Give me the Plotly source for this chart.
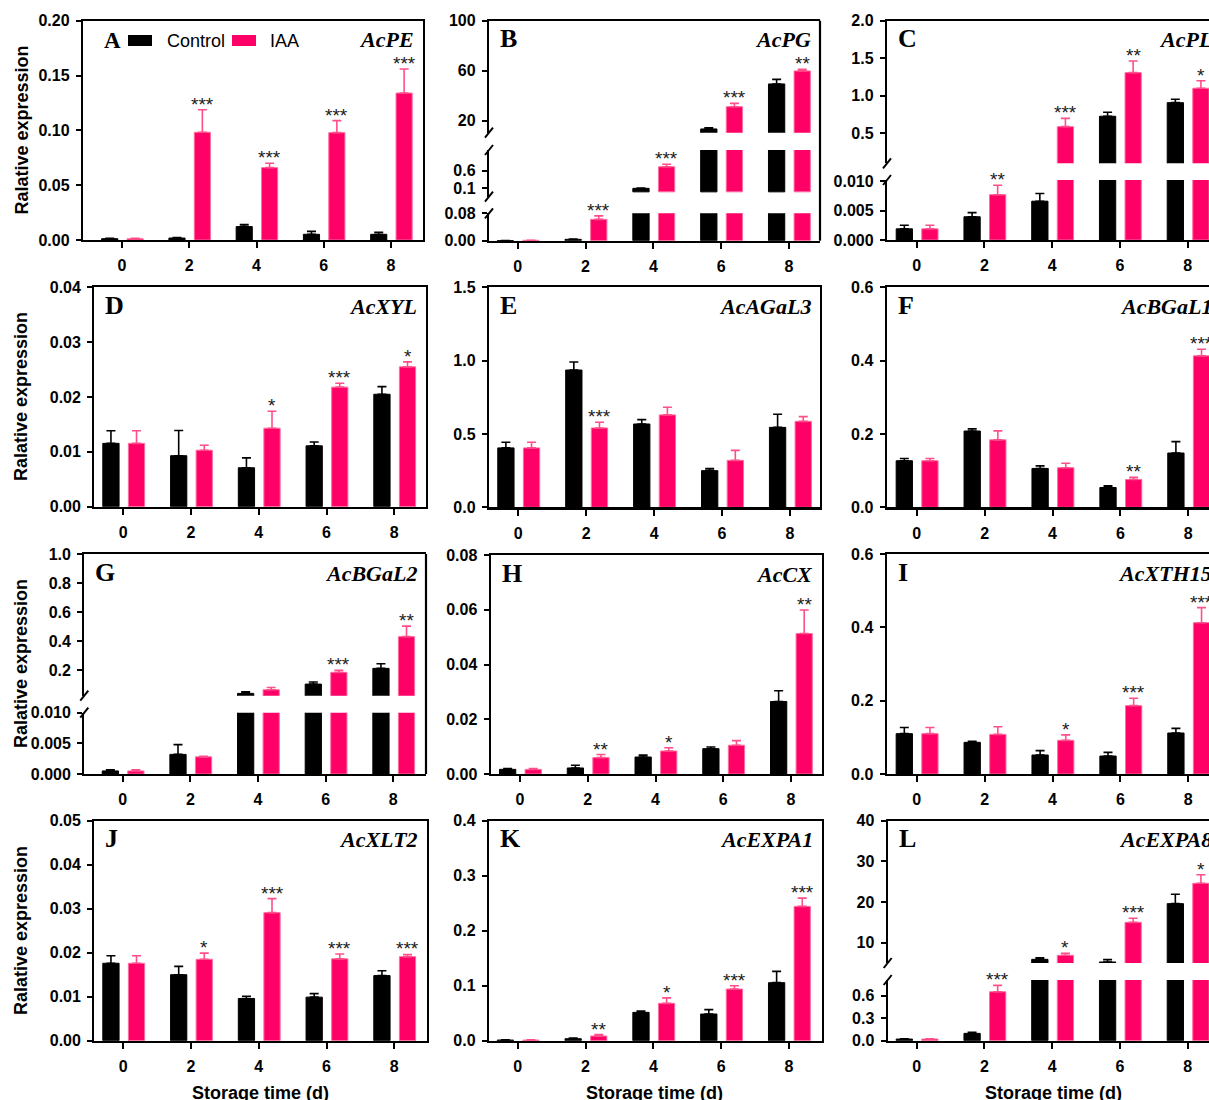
import plotly.graph_objects as go

W, H = 1209, 1100

# ---------------- data ----------------
days = [0, 2, 4, 6, 8]
day_labels = ["0", "2", "4", "6", "8"]
series_names = ["Control", "IAA"]
y_title = "Ralative expression"
x_title = "Storage time (d)"

# A  AcPE
AcPE_control = [0.0012, 0.0018, 0.0122, 0.0052, 0.0052]
AcPE_control_err = [0.0004, 0.0005, 0.0018, 0.0027, 0.0018]
AcPE_iaa = [0.0012, 0.0982, 0.066, 0.0979, 0.134]
AcPE_iaa_err = [0.0004, 0.0206, 0.004, 0.011, 0.022]
AcPE_sig = ["", "***", "***", "***", "***"]
AcPE_yticks = [0, 0.05, 0.10, 0.15, 0.20]
AcPE_ylabels = ["0.00", "0.05", "0.10", "0.15", "0.20"]

# B  AcPG (three-segment axis)
AcPG_control = [0.0005, 0.004, 0.10, 13.4, 49.4]
AcPG_control_err = [0.0002, 0.0008, 0.005, 1.0, 3.7]
AcPG_iaa = [0.0012, 0.0624, 0.713, 31.2, 59.8]
AcPG_iaa_err = [0.0003, 0.010, 0.07, 2.7, 1.3]
AcPG_sig = ["", "***", "***", "***", "**"]
AcPG_yticks_low = [0, 0.08]
AcPG_ylabels_low = ["0.00", "0.08"]
AcPG_yticks_mid = [0.1, 0.6]
AcPG_ylabels_mid = ["0.1", "0.6"]
AcPG_yticks_high = [20, 60, 100]
AcPG_ylabels_high = ["20", "60", "100"]

# C  AcPL (broken axis)
AcPL_control = [0.0019, 0.00395, 0.0066, 0.727, 0.908]
AcPL_control_err = [0.0006, 0.0007, 0.0013, 0.053, 0.045]
AcPL_iaa = [0.0019, 0.0077, 0.588, 1.308, 1.10]
AcPL_iaa_err = [0.0006, 0.0016, 0.11, 0.156, 0.10]
AcPL_sig = ["", "**", "***", "**", "*"]
AcPL_yticks_low = [0, 0.005, 0.010]
AcPL_ylabels_low = ["0.000", "0.005", "0.010"]
AcPL_yticks_high = [0.5, 1.0, 1.5, 2.0]
AcPL_ylabels_high = ["0.5", "1.0", "1.5", "2.0"]

# D  AcXYL
AcXYL_control = [0.01155, 0.0093, 0.0071, 0.0111, 0.0205]
AcXYL_control_err = [0.0023, 0.0046, 0.0018, 0.0007, 0.0014]
AcXYL_iaa = [0.01155, 0.0103, 0.0143, 0.0218, 0.0255]
AcXYL_iaa_err = [0.0023, 0.0009, 0.0031, 0.0007, 0.0009]
AcXYL_sig = ["", "", "*", "***", "*"]
AcXYL_yticks = [0, 0.01, 0.02, 0.03, 0.04]
AcXYL_ylabels = ["0.00", "0.01", "0.02", "0.03", "0.04"]

# E  AcAGaL3
AcAGaL3_control = [0.405, 0.936, 0.568, 0.25, 0.545]
AcAGaL3_control_err = [0.039, 0.055, 0.03, 0.014, 0.089]
AcAGaL3_iaa = [0.405, 0.541, 0.63, 0.32, 0.586]
AcAGaL3_iaa_err = [0.039, 0.039, 0.052, 0.068, 0.032]
AcAGaL3_sig = ["", "***", "", "", ""]
AcAGaL3_yticks = [0, 0.5, 1.0, 1.5]
AcAGaL3_ylabels = ["0.0", "0.5", "1.0", "1.5"]

# F  AcBGaL1
AcBGaL1_control = [0.127, 0.208, 0.106, 0.054, 0.148]
AcBGaL1_control_err = [0.006, 0.006, 0.007, 0.0045, 0.031]
AcBGaL1_iaa = [0.127, 0.184, 0.108, 0.076, 0.413]
AcBGaL1_iaa_err = [0.006, 0.0245, 0.012, 0.0055, 0.018]
AcBGaL1_sig = ["", "", "", "**", "***"]
AcBGaL1_yticks = [0, 0.2, 0.4, 0.6]
AcBGaL1_ylabels = ["0.0", "0.2", "0.4", "0.6"]

# G  AcBGaL2 (broken axis)
AcBGaL2_control = [0.0005, 0.0032, 0.039, 0.103, 0.2115]
AcBGaL2_control_err = [0.0002, 0.0016, 0.011, 0.014, 0.032]
AcBGaL2_iaa = [0.0005, 0.0028, 0.064, 0.184, 0.43]
AcBGaL2_iaa_err = [0.0002, 0.0001, 0.016, 0.014, 0.073]
AcBGaL2_sig = ["", "", "", "***", "**"]
AcBGaL2_yticks_low = [0, 0.005, 0.010]
AcBGaL2_ylabels_low = ["0.000", "0.005", "0.010"]
AcBGaL2_yticks_high = [0.2, 0.4, 0.6, 0.8, 1.0]
AcBGaL2_ylabels_high = ["0.2", "0.4", "0.6", "0.8", "1.0"]

# H  AcCX
AcCX_control = [0.0017, 0.0022, 0.0062, 0.00925, 0.0265]
AcCX_control_err = [0.0003, 0.001, 0.0007, 0.0006, 0.0039]
AcCX_iaa = [0.0017, 0.006, 0.0084, 0.0105, 0.0513]
AcCX_iaa_err = [0.0003, 0.0011, 0.0012, 0.0017, 0.0086]
AcCX_sig = ["", "**", "*", "", "**"]
AcCX_yticks = [0, 0.02, 0.04, 0.06, 0.08]
AcCX_ylabels = ["0.00", "0.02", "0.04", "0.06", "0.08"]

# I  AcXTH15
AcXTH15_control = [0.11, 0.0864, 0.0518, 0.049, 0.1118]
AcXTH15_control_err = [0.017, 0.003, 0.012, 0.01, 0.0127]
AcXTH15_iaa = [0.11, 0.108, 0.0918, 0.1864, 0.4127]
AcXTH15_iaa_err = [0.017, 0.021, 0.015, 0.02, 0.041]
AcXTH15_sig = ["", "", "*", "***", "***"]
AcXTH15_yticks = [0, 0.2, 0.4, 0.6]
AcXTH15_ylabels = ["0.0", "0.2", "0.4", "0.6"]

# J  AcXLT2
AcXLT2_control = [0.0176, 0.015, 0.0096, 0.0099, 0.0148]
AcXLT2_control_err = [0.0017, 0.0019, 0.0005, 0.0008, 0.0011]
AcXLT2_iaa = [0.0176, 0.0185, 0.0291, 0.0186, 0.0191]
AcXLT2_iaa_err = [0.0017, 0.0014, 0.0032, 0.0011, 0.0005]
AcXLT2_sig = ["", "*", "***", "***", "***"]
AcXLT2_yticks = [0, 0.01, 0.02, 0.03, 0.04, 0.05]
AcXLT2_ylabels = ["0.00", "0.01", "0.02", "0.03", "0.04", "0.05"]

# K  AcEXPA1
AcEXPA1_control = [0.0012, 0.0036, 0.0515, 0.0485, 0.1055]
AcEXPA1_control_err = [0.0003, 0.001, 0.0025, 0.008, 0.0206]
AcEXPA1_iaa = [0.0012, 0.0085, 0.0679, 0.0939, 0.2442]
AcEXPA1_iaa_err = [0.0003, 0.0025, 0.01, 0.006, 0.015]
AcEXPA1_sig = ["", "**", "*", "***", "***"]
AcEXPA1_yticks = [0, 0.1, 0.2, 0.3, 0.4]
AcEXPA1_ylabels = ["0.0", "0.1", "0.2", "0.3", "0.4"]

# L  AcEXPA8 (broken axis)
AcEXPA8_control = [0.022, 0.098, 5.9, 5.25, 19.6]
AcEXPA8_control_err = [0.005, 0.013, 0.4, 0.57, 2.3]
AcEXPA8_iaa = [0.022, 0.653, 6.89, 15.0, 24.6]
AcEXPA8_iaa_err = [0.005, 0.085, 0.5, 1.0, 2.1]
AcEXPA8_sig = ["", "***", "*", "***", "*"]
AcEXPA8_yticks_low = [0, 0.3, 0.6]
AcEXPA8_ylabels_low = ["0.0", "0.3", "0.6"]
AcEXPA8_yticks_high = [10, 20, 30, 40]
AcEXPA8_ylabels_high = ["10", "20", "30", "40"]

# ---------------- style / geometry ----------------
PINK = "#ff0066"
PINK_EDGE = "#ff6f9f"
PINK_ERR = "#ff4f8a"
SANS = "Liberation Sans"
SERIF = "Liberation Serif"
LINE_W = 2.2
BAR_W = 0.48
CTRL_OFF = -0.365
IAA_OFF = 0.39
TICKFONT = dict(family=SANS, size=16, color="black", weight="bold")


def seg(rng, px, ticks, labels):
    return dict(range=rng, px=px, ticks=ticks, labels=labels)


panels = [
    dict(letter="A", gene="AcPE", c=AcPE_control, ce=AcPE_control_err, t=AcPE_iaa, te=AcPE_iaa_err, sig=AcPE_sig,
         segs=[seg([0, 0.2], (20.7, 240), AcPE_yticks, AcPE_ylabels)],
         box=(83, 423, 122, 391), col=0),
    dict(letter="B", gene="AcPG", c=AcPG_control, ce=AcPG_control_err, t=AcPG_iaa, te=AcPG_iaa_err, sig=AcPG_sig,
         segs=[seg([0, 0.08], (213.3, 240.7), AcPG_yticks_low, AcPG_ylabels_low),
               seg([-0.138, 1.19], (150, 196.7), AcPG_yticks_mid, AcPG_ylabels_mid),
               seg([10.4, 100], (20.7, 132.7), AcPG_yticks_high, AcPG_ylabels_high)],
         box=(489, 820, 517.7, 789), col=1),
    dict(letter="C", gene="AcPL", c=AcPL_control, ce=AcPL_control_err, t=AcPL_iaa, te=AcPL_iaa_err, sig=AcPL_sig,
         segs=[seg([0, 0.0102], (180, 240), AcPL_yticks_low, AcPL_ylabels_low),
               seg([0.1, 2.0], (20.7, 163.3), AcPL_yticks_high, AcPL_ylabels_high)],
         box=(887, 1221, 916.7, 1187.7), col=2),
    dict(letter="D", gene="AcXYL", c=AcXYL_control, ce=AcXYL_control_err, t=AcXYL_iaa, te=AcXYL_iaa_err, sig=AcXYL_sig,
         segs=[seg([0, 0.04], (287.3, 506.7), AcXYL_yticks, AcXYL_ylabels)],
         box=(94.3, 426, 123.3, 394.3), col=0),
    dict(letter="E", gene="AcAGaL3", c=AcAGaL3_control, ce=AcAGaL3_control_err, t=AcAGaL3_iaa, te=AcAGaL3_iaa_err, sig=AcAGaL3_sig,
         segs=[seg([0, 1.5], (287.3, 507.3), AcAGaL3_yticks, AcAGaL3_ylabels)],
         box=(489, 820, 518.3, 790), col=1),
    dict(letter="F", gene="AcBGaL1", c=AcBGaL1_control, ce=AcBGaL1_control_err, t=AcBGaL1_iaa, te=AcBGaL1_iaa_err, sig=AcBGaL1_sig,
         segs=[seg([0, 0.6], (287.3, 507.3), AcBGaL1_yticks, AcBGaL1_ylabels)],
         box=(886.7, 1221, 916.7, 1188.3), col=2),
    dict(letter="G", gene="AcBGaL2", c=AcBGaL2_control, ce=AcBGaL2_control_err, t=AcBGaL2_iaa, te=AcBGaL2_iaa_err, sig=AcBGaL2_sig,
         segs=[seg([0, 0.010], (712.7, 774), AcBGaL2_yticks_low, AcBGaL2_ylabels_low),
               seg([0.023, 1.0], (554, 695.7), AcBGaL2_yticks_high, AcBGaL2_ylabels_high)],
         box=(84.3, 426, 122.7, 393.3), col=0),
    dict(letter="H", gene="AcCX", c=AcCX_control, ce=AcCX_control_err, t=AcCX_iaa, te=AcCX_iaa_err, sig=AcCX_sig,
         segs=[seg([0, 0.08], (555, 774), AcCX_yticks, AcCX_ylabels)],
         box=(490.7, 821.7, 520, 791), col=1),
    dict(letter="I", gene="AcXTH15", c=AcXTH15_control, ce=AcXTH15_control_err, t=AcXTH15_iaa, te=AcXTH15_iaa_err, sig=AcXTH15_sig,
         segs=[seg([0, 0.6], (554, 774), AcXTH15_yticks, AcXTH15_ylabels)],
         box=(886.7, 1221, 916.7, 1188.3), col=2),
    dict(letter="J", gene="AcXLT2", c=AcXLT2_control, ce=AcXLT2_control_err, t=AcXLT2_iaa, te=AcXLT2_iaa_err, sig=AcXLT2_sig,
         segs=[seg([0, 0.05], (820.7, 1040.7), AcXLT2_yticks, AcXLT2_ylabels)],
         box=(94.3, 426.7, 123.3, 394.3), col=0),
    dict(letter="K", gene="AcEXPA1", c=AcEXPA1_control, ce=AcEXPA1_control_err, t=AcEXPA1_iaa, te=AcEXPA1_iaa_err, sig=AcEXPA1_sig,
         segs=[seg([0, 0.4], (820.7, 1040.7), AcEXPA1_yticks, AcEXPA1_ylabels)],
         box=(489, 821.7, 517.7, 789), col=1),
    dict(letter="L", gene="AcEXPA8", c=AcEXPA8_control, ce=AcEXPA8_control_err, t=AcEXPA8_iaa, te=AcEXPA8_iaa_err, sig=AcEXPA8_sig,
         segs=[seg([0, 0.81], (980, 1040.7), AcEXPA8_yticks_low, AcEXPA8_ylabels_low),
               seg([5.0, 40], (820.7, 963), AcEXPA8_yticks_high, AcEXPA8_ylabels_high)],
         box=(887.7, 1221, 916.7, 1187.7), col=2),
]


def fx(p):
    return p / W


def fy(p):
    return 1 - p / H


def above(vals, errs, floor):
    """Keep only the bars that reach past the break below this segment."""
    v = [x if (floor is None or x > floor) else None for x in vals]
    e = [er if (floor is None or x > floor) else None for x, er in zip(vals, errs)]
    return v, e


layout = dict(width=W, height=H, margin=dict(l=0, r=0, t=0, b=0, pad=0),
              paper_bgcolor="white", plot_bgcolor="white", showlegend=False,
              barmode="overlay", hovermode=False)
annotations, shapes, traces = [], [], []
n = 0

for p in panels:
    left, right, x0, x8 = p["box"]
    ppu = (x8 - x0) / 8.0
    r_eff = min(right, W)
    xr = [(left - x0) / ppu, (r_eff - x0) / ppu]
    xdom = [fx(left), fx(r_eff)]
    segs = p["segs"]
    nseg = len(segs)
    third = p["col"] == 2
    ids = []
    for i, s in enumerate(segs):
        n += 1
        sx = "" if n == 1 else str(n)
        ids.append(sx)
        top_px, bot_px = s["px"]
        ydom = [fy(bot_px), fy(top_px)]
        xa = dict(domain=xdom, range=xr, anchor="y" + sx, showgrid=False, zeroline=False,
                  fixedrange=True, automargin=False)
        if i == 0:
            xa.update(showline=True, linecolor="black", linewidth=LINE_W, ticks="outside",
                      ticklen=6, tickwidth=2, tickcolor="black", tickmode="array",
                      tickvals=days, ticktext=day_labels, tickfont=TICKFONT,
                      ticklabelstandoff=4, mirror=(nseg == 1))
        elif i == nseg - 1:
            xa.update(side="top", showline=True, linecolor="black", linewidth=LINE_W,
                      ticks="", showticklabels=False)
        else:
            xa.update(showline=False, ticks="", showticklabels=False)
        ya = dict(domain=ydom, range=s["range"], anchor="x" + sx, showgrid=False, zeroline=False,
                  showline=True, linecolor="black", linewidth=LINE_W, ticks="outside", ticklen=5,
                  tickwidth=2, tickcolor="black", tickmode="array", tickvals=s["ticks"],
                  ticktext=s["labels"], tickfont=TICKFONT, ticklabelstandoff=3,
                  mirror=(nseg == 1 and not third), fixedrange=True, automargin=False)
        layout["xaxis" + sx] = xa
        layout["yaxis" + sx] = ya

        floor = None if i == 0 else segs[i - 1]["range"][1]
        cv, ce = above(p["c"], p["ce"], floor)
        tv, te = above(p["t"], p["te"], floor)
        zeros = [0] * len(days)

        traces.append(go.Bar(
            x=days, y=cv, xaxis="x" + sx, yaxis="y" + sx, name=series_names[0],
            width=BAR_W, offset=CTRL_OFF - BAR_W / 2,
            marker=dict(color="black", line=dict(color="black", width=1)),
            error_y=dict(type="data", symmetric=False, array=ce, arrayminus=zeros,
                         color="black", thickness=1.6, width=4.5)))
        traces.append(go.Bar(
            x=days, y=tv, xaxis="x" + sx, yaxis="y" + sx, name=series_names[1],
            width=BAR_W, offset=IAA_OFF - BAR_W / 2,
            marker=dict(color=PINK, line=dict(color=PINK_EDGE, width=1)),
            error_y=dict(type="data", symmetric=False, array=te, arrayminus=zeros,
                         color=PINK_ERR, thickness=1.6, width=4.5)))

    # significance stars (placed in the lowest segment that holds the error-bar top)
    for j, d in enumerate(days):
        if not p["sig"][j]:
            continue
        top = p["t"][j] + p["te"][j]
        k = None
        for i, s in enumerate(segs):
            if s["range"][0] <= top <= s["range"][1]:
                k = i
                break
        if k is None:
            k = len(segs) - 1
        annotations.append(dict(x=d + IAA_OFF, y=top, xref="x" + ids[k], yref="y" + ids[k],
                                text=p["sig"][j], showarrow=False, xanchor="center", yanchor="bottom",
                                yshift=-7, font=dict(family=SANS, size=19, color="#1a1a1a")))

    top_px = segs[-1]["px"][0]
    bot_px = segs[0]["px"][1]
    # broken-axis decorations
    if nseg > 1:
        for i in range(nseg - 1):
            for yb in (segs[i]["px"][0], segs[i + 1]["px"][1]):
                shapes.append(dict(type="line", xref="paper", yref="paper",
                                   x0=fx(left - 4), y0=fy(yb + 5), x1=fx(left + 4), y1=fy(yb - 5),
                                   line=dict(color="black", width=2)))
        if not third:
            shapes.append(dict(type="line", xref="paper", yref="paper",
                               x0=fx(right), y0=fy(top_px), x1=fx(right), y1=fy(bot_px),
                               line=dict(color="black", width=LINE_W)))

    # panel letter and gene name
    if p["letter"] == "A":
        annotations.append(dict(x=fx(102), y=fy(top_px + 20), xref="paper", yref="paper",
                                text="A", showarrow=False, xanchor="left", yanchor="middle",
                                font=dict(family=SERIF, size=23, color="black", weight="bold")))
    else:
        annotations.append(dict(x=fx(left + 9), y=fy(top_px + 18), xref="paper", yref="paper",
                                text=p["letter"], showarrow=False, xanchor="left", yanchor="middle",
                                font=dict(family=SERIF, size=26, color="black", weight="bold")))
    annotations.append(dict(x=fx(right - 7), y=fy(top_px + 19), xref="paper", yref="paper",
                            text=p["gene"], showarrow=False, xanchor="right", yanchor="middle",
                            font=dict(family=SERIF, size=22, color="black", weight="bold",
                                      style="italic")))

# legend inside panel A
shapes.append(dict(type="rect", xref="paper", yref="paper", x0=fx(128), x1=fx(152),
                   y0=fy(46), y1=fy(35), fillcolor="black", line=dict(width=0)))
shapes.append(dict(type="rect", xref="paper", yref="paper", x0=fx(232), x1=fx(256),
                   y0=fy(46), y1=fy(35), fillcolor=PINK, line=dict(width=0)))
annotations.append(dict(x=fx(165), y=fy(41), xref="paper", yref="paper", text=series_names[0],
                        showarrow=False, xanchor="left", yanchor="middle",
                        font=dict(family=SANS, size=18, color="black")))
annotations.append(dict(x=fx(268), y=fy(41), xref="paper", yref="paper", text=series_names[1],
                        showarrow=False, xanchor="left", yanchor="middle",
                        font=dict(family=SANS, size=18, color="black")))

# axis titles
for yc in (130.5, 397, 664, 931):
    annotations.append(dict(x=fx(21), y=fy(yc), xref="paper", yref="paper", text=y_title,
                            showarrow=False, textangle=-90, xanchor="center", yanchor="middle",
                            font=dict(family=SANS, size=18, color="black", weight="bold")))
for xc in (260, 654, 1053):
    annotations.append(dict(x=fx(xc), y=fy(1093), xref="paper", yref="paper", text=x_title,
                            showarrow=False, xanchor="center", yanchor="middle",
                            font=dict(family=SANS, size=18, color="black", weight="bold")))

layout["annotations"] = annotations
layout["shapes"] = shapes

fig = go.Figure(data=traces, layout=layout)
fig.write_html("out.html", config=dict(displayModeBar=False, staticPlot=True))
